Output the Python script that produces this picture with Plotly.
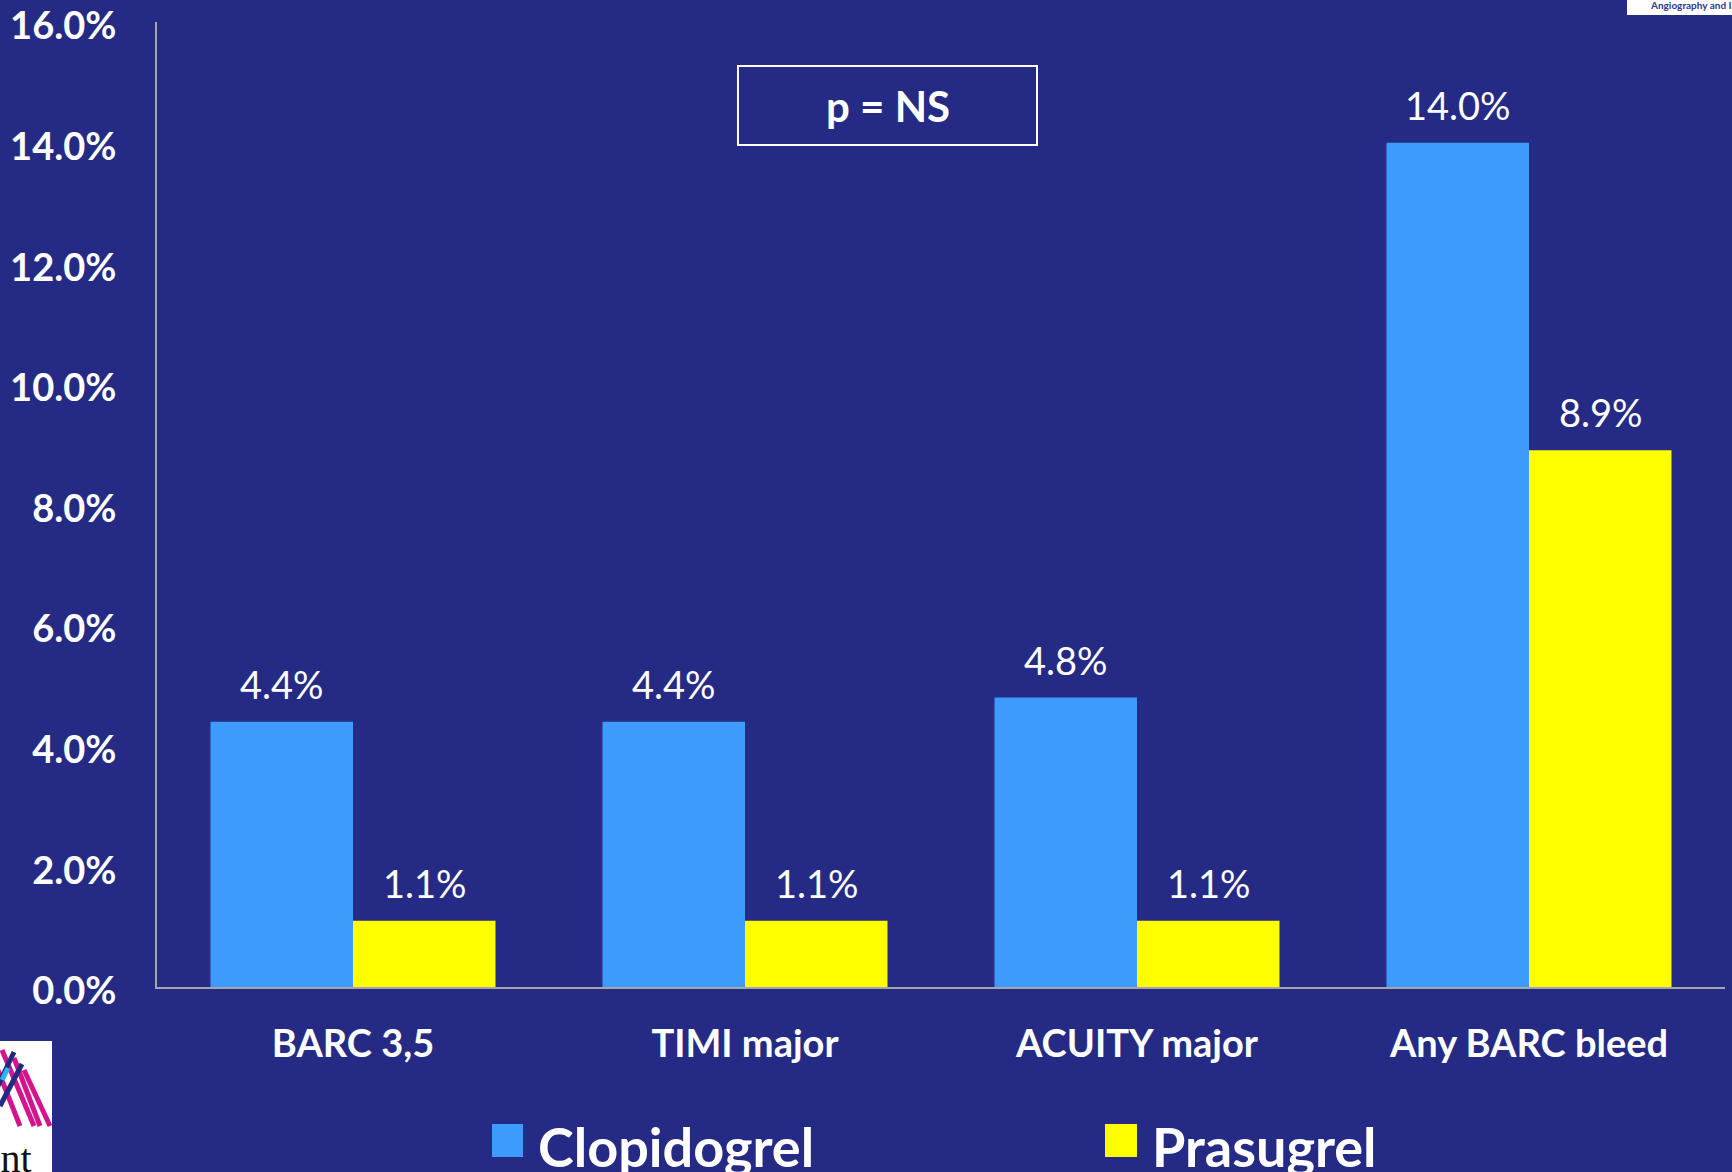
import plotly.graph_objects as go

# Bleeding endpoints, % of patients
categories = ["BARC 3,5", "TIMI major", "ACUITY major", "Any BARC bleed"]
clopidogrel = [4.4, 4.4, 4.8, 14.0]
prasugrel = [1.1, 1.1, 1.1, 8.9]
series_names = ["Clopidogrel", "Prasugrel"]
y_ticks = [0, 2, 4, 6, 8, 10, 12, 14, 16]

BG = "#252B84"
BLUE = "#3D9BFC"
YELLOW = "#FFFF00"
AXIS = "#A6A6A6"
FONT = "Lato"

W, H = 1732, 1172
L, R, T, B = 157, 7, 22, 185
PW, PH = W - L - R, H - T - B


def px(x):
    return (x - L) / PW


def py(y):
    return (H - B - y) / PH


fig = go.Figure()
for name, vals, col in [(series_names[0], clopidogrel, BLUE),
                        (series_names[1], prasugrel, YELLOW)]:
    fig.add_trace(go.Bar(
        name=name, x=categories, y=vals, marker=dict(color=col, line=dict(width=0)),
        offsetgroup=name, showlegend=False,
    ))

# value labels above each bar
annotations = []
for i, cat in enumerate(categories):
    for k, vals in enumerate([clopidogrel, prasugrel]):
        annotations.append(dict(
            x=cat, y=vals[i], xref="x", yref="y", xshift=(-1 if k == 0 else 1) * 71.5,
            text=f"{vals[i]:.1f}%", showarrow=False, yanchor="bottom", yshift=13,
            font=dict(family=FONT, size=38, color="white"),
        ))

# p-value box
annotations.append(dict(
    x=px(888), y=py(106), xref="paper", yref="paper", text="<b>p = NS</b>",
    showarrow=False, xanchor="center", yanchor="middle",
    font=dict(family=FONT, size=42, color="white"),
))

# legend entries
for name, col, sx, tx in [(series_names[0], BLUE, 492, 536), (series_names[1], YELLOW, 1105, 1150)]:
    annotations.append(dict(
        x=px(tx), y=py(1146), xref="paper", yref="paper", text=f"<b>{name}</b>",
        showarrow=False, xanchor="left", yanchor="middle",
        font=dict(family=FONT, size=54, color="white"),
    ))

# corner logo fragments
annotations.append(dict(
    x=px(1648), y=py(5), xref="paper", yref="paper", text="<b>Angiography and Interventions</b>",
    showarrow=False, xanchor="left", yanchor="middle",
    font=dict(family=FONT, size=10, color="#2B3A8C"),
))
annotations.append(dict(
    x=px(34), y=py(1158), xref="paper", yref="paper", text="Mount",
    showarrow=False, xanchor="right", yanchor="middle",
    font=dict(family="Liberation Serif", size=40, color="#111111"),
))

shapes = [
    dict(type="rect", xref="paper", yref="paper", x0=px(738), x1=px(1037), y0=py(145), y1=py(66),
         line=dict(color="white", width=2), fillcolor="rgba(0,0,0,0)"),
    dict(type="rect", xref="paper", yref="paper", x0=px(492), x1=px(523), y0=py(1157), y1=py(1124),
         line=dict(width=0), fillcolor=BLUE),
    dict(type="rect", xref="paper", yref="paper", x0=px(1105), x1=px(1137), y0=py(1157), y1=py(1124),
         line=dict(width=0), fillcolor=YELLOW),
    dict(type="rect", xref="paper", yref="paper", x0=px(1627), x1=px(1740), y0=py(15), y1=py(-5),
         line=dict(width=0), fillcolor="white", layer="below"),
    dict(type="rect", xref="paper", yref="paper", x0=px(-5), x1=px(52), y0=py(1180), y1=py(1041),
         line=dict(width=0), fillcolor="white", layer="below"),
]
# stripes of the lower-left emblem
for x0, y0, x1, y1, c in [(-10, 1050, 20, 1126, "#D4148C"), (2, 1050, 34, 1126, "#D4148C"),
                          (14, 1058, 40, 1126, "#D4148C"), (24, 1070, 50, 1126, "#D4148C"),
                          (-4, 1090, 14, 1052, "#242A7E"), (0, 1106, 22, 1064, "#242A7E")]:
    shapes.append(dict(type="line", xref="paper", yref="paper", x0=px(x0), y0=py(y0),
                       x1=px(x1), y1=py(y1), line=dict(color=c, width=5)))
shapes.append(dict(type="line", xref="paper", yref="paper", x0=px(2), y0=py(1080),
                   x1=px(8), y1=py(1068), line=dict(color="#29B5F0", width=5)))

fig.update_layout(
    width=W, height=H,
    margin=dict(l=L, r=R, t=T, b=B, autoexpand=False),
    paper_bgcolor=BG, plot_bgcolor=BG,
    barmode="group", bargap=0.273, bargroupgap=0,
    showlegend=False,
    annotations=annotations, shapes=shapes,
    xaxis=dict(
        showgrid=False, showline=True, linecolor=AXIS, linewidth=2, ticks="",
        tickfont=dict(family=FONT, size=38, color="white"),
        ticklabelstandoff=22, zeroline=False, automargin=False,
        tickvals=categories, ticktext=[f"<b>{c}</b>" for c in categories],
    ),
    yaxis=dict(
        range=[0, 16], tickvals=y_ticks, ticktext=[f"<b>{v:.1f}%</b>" for v in y_ticks],
        showgrid=False, showline=True, linecolor=AXIS, linewidth=2, ticks="",
        zeroline=False, tickfont=dict(family=FONT, size=38, color="white"),
        ticklabelstandoff=31, ticklabelshift=4, ticklabeloverflow="allow", automargin=False,
    ),
)

fig.write_html("out.html")
